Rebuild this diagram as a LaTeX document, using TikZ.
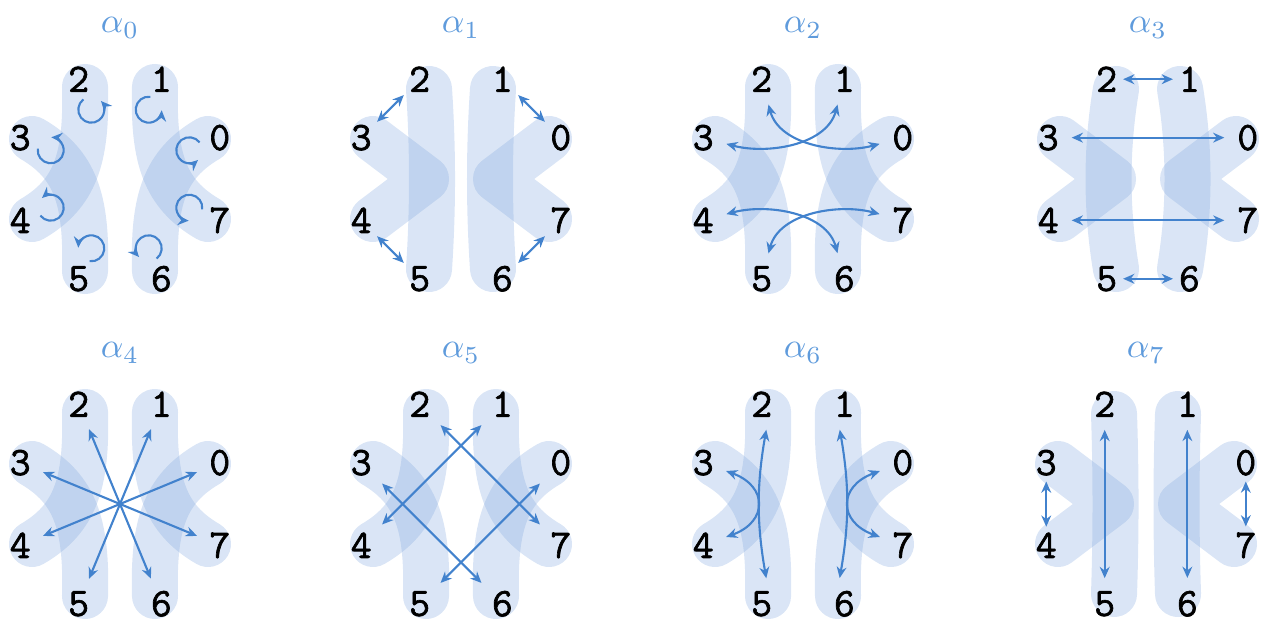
\documentclass[tikz,border=0pt]{standalone}
\usepackage{fontspec}
\usepackage{tikz}
\usetikzlibrary{arrows.meta}

\newfontfamily\numfont[FakeBold=1.6]{Latin Modern Mono}

\definecolor{petalblue}{RGB}{120,160,220}
\definecolor{linkblue}{RGB}{66,130,205}
\definecolor{titleblue}{RGB}{95,155,220}

\begin{document}
\begin{tikzpicture}[x=0.01cm, y=0.01cm, >={Stealth[length=3.2pt,width=2.8pt]}]
        % Styles
        \tikzset{
            petal/.style={draw=petalblue, draw opacity=0.27, line width=0.46cm, line cap=round},
            num/.style={font=\numfont\fontsize{11.5}{12}\selectfont, inner sep=1pt},
            ttl/.style={text=titleblue, font=\normalsize},
            link/.style={<->, draw=linkblue, line width=0.6pt, shorten <=2.5pt, shorten >=2.5pt},
            near/.style={shorten <=0.5pt, shorten >=0.5pt},
            spin/.style={->, draw=linkblue, line width=0.6pt}
        }
        \useasboundingbox (0,0) rectangle (1268,621);

        % Panels: index / centre / blob kind (0 crossed, 1 stalk) / stalk bow
        \foreach \k/\cx/\cy/\bt/\bw in {0/120/442/0/0, 1/461/442/1/28, 2/803/442/0/0, 3/1148/442/1/42,
                                        4/120/117/0/0, 5/461/117/0/0, 6/803/117/0/0, 7/1146/117/1/30}{
            \begin{scope}[shift={(\cx,\cy)}]
                \ifnum\bt=0
                    \foreach \s in {1,-1}{
                        \draw[petal] (\s*35,92) .. controls (\s*33,20) and (\s*45,-15) .. (\s*88,-40);
                        \draw[petal] (\s*35,-92) .. controls (\s*33,-20) and (\s*45,15) .. (\s*88,40);
                    }
                \else
                    \foreach \s in {1,-1}{
                        \draw[petal] (\s*32,90) .. controls (\s*\bw,30) and (\s*\bw,-30) .. (\s*32,-90);
                        \draw[petal, line join=round] (\s*88,40) -- (\s*35,0) -- (\s*88,-40);
                    }
                \fi
                \foreach \i in {0,...,7}
                    \node[num] (p\k-\i) at (22.5+45*\i:108) {\i};
                \node[ttl] (t\k) at (0,151) {$\alpha_{\k}$};
                \coordinate (c\k) at (0,0);
            \end{scope}
        }

        % alpha_0
        \begin{scope}[shift={(c0)}]
            \foreach \i in {0,...,7}{
                \pgfmathsetmacro{\en}{22.5+45*\i-70}
                \pgfmathsetmacro{\st}{\en-275}
                \coordinate (s\i) at (22.5+45*\i:75);
                \draw[spin] ([shift={(\st:13)}]s\i) arc[start angle=\st, end angle=\en, radius=13];
            }
        \end{scope}

        % alpha_1
        \draw[link, near] (p1-2) -- (p1-3);
        \draw[link, near] (p1-1) -- (p1-0);
        \draw[link, near] (p1-4) -- (p1-5);
        \draw[link, near] (p1-6) -- (p1-7);

        % alpha_2
        \draw[link] (p2-3) to[out=-15, in=-105] (p2-1);
        \draw[link] (p2-0) to[out=195, in=-75] (p2-2);
        \draw[link] (p2-4) to[out=15, in=105] (p2-6);
        \draw[link] (p2-7) to[out=165, in=75] (p2-5);

        % alpha_3
        \draw[link, near] (p3-2) -- (p3-1);
        \draw[link] (p3-3) -- (p3-0);
        \draw[link] (p3-4) -- (p3-7);
        \draw[link, near] (p3-5) -- (p3-6);

        % alpha_4
        \foreach \i in {0,...,7}
            \draw[spin, shorten >=2.5pt] (c4) -- (p4-\i);

        % alpha_5
        \draw[link] (p5-2) -- (p5-7);
        \draw[link] (p5-1) -- (p5-4);
        \draw[link] (p5-3) -- (p5-6);
        \draw[link] (p5-0) -- (p5-5);

        % alpha_6
        \draw[link] (p6-2.-70) to[out=-100, in=100] (p6-5.70);
        \draw[link] (p6-1.-110) to[out=-80, in=80] (p6-6.110);
        \draw[link] (p6-3) to[out=-20, in=20, looseness=1.9] (p6-4);
        \draw[link] (p6-0) to[out=200, in=160, looseness=1.9] (p6-7);

        % alpha_7
        \draw[link] (p7-2) -- (p7-5);
        \draw[link] (p7-1) -- (p7-6);
        \draw[link, near] (p7-3) -- (p7-4);
        \draw[link, near] (p7-0) -- (p7-7);
    \end{tikzpicture}
\end{document}
